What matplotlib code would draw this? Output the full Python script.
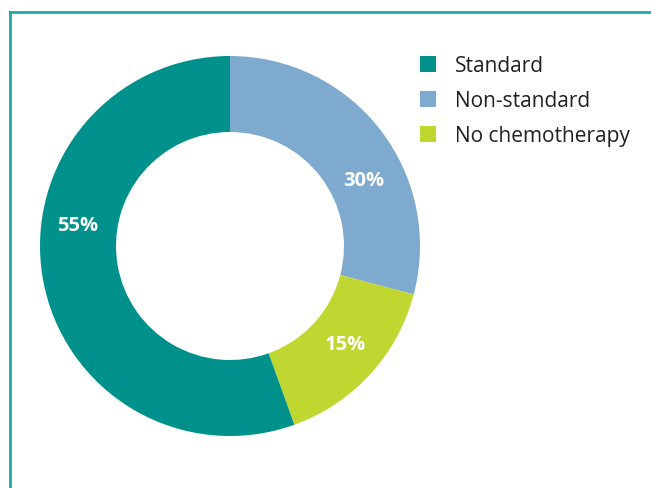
import numpy as np
import matplotlib.pyplot as plt
from matplotlib.lines import Line2D
from matplotlib.patches import Patch

# data (slice sizes, printed labels as in the original)
labels = ['Non-standard', 'No chemotherapy', 'Standard']
shares = [29.1, 15.4, 55.5]
pct_text = ['30%', '15%', '55%']
colors = ['#7eaacf', '#bfd730', '#00918c']
legend_order = ['Standard', 'Non-standard', 'No chemotherapy']

# where the percentage labels sit (angle in deg, radius as fraction)
label_angles = [26.4, -40.4, 172.2]
label_radii = [0.787, 0.795, 0.81]

plt.rcParams['font.family'] = ['Open Sans', 'DejaVu Sans']

W, H = 651, 489
fig = plt.figure(figsize=(W / 100, H / 100), dpi=100)

# pie axes: centre (230, 247) px, radius 190 px
cx, cy, r = 230, 247, 190
ax = fig.add_axes([(cx - r) / W, (H - cy - r) / H, 2 * r / W, 2 * r / H])
wedges, _ = ax.pie(shares, colors=colors, startangle=90, counterclock=False,
                   wedgeprops=dict(width=0.4, linewidth=0))
for t, a, rr in zip(pct_text, label_angles, label_radii):
    ax.text(rr * np.cos(np.radians(a)), rr * np.sin(np.radians(a)), t,
            ha='center', va='center', color='white', fontsize=14.5,
            fontweight='bold')
ax.set_xlim(-1, 1)
ax.set_ylim(-1, 1)
ax.set_aspect('equal')
ax.axis('off')

# legend
handles = [Patch(facecolor=colors[labels.index(n)], edgecolor='none') for n in legend_order]
fig.legend(handles, legend_order, loc='upper left',
           bbox_to_anchor=(420 / W, 1 - 56 / H), frameon=False,
           borderaxespad=0, borderpad=0,
           fontsize=15, handlelength=0.77, handleheight=0.77,
           handletextpad=0.9, labelspacing=0.68, labelcolor='#231f20')

# frame lines (top and left)
fc = '#1fa9a2'
fig.add_artist(Line2D([10 / W, 10 / W], [0, 1 - 13 / H], color=fc, lw=2,
                      transform=fig.transFigure))
fig.add_artist(Line2D([10 / W, 1], [1 - 13 / H, 1 - 13 / H], color=fc, lw=2,
                      transform=fig.transFigure))

fig.savefig('out.png', dpi=100)
